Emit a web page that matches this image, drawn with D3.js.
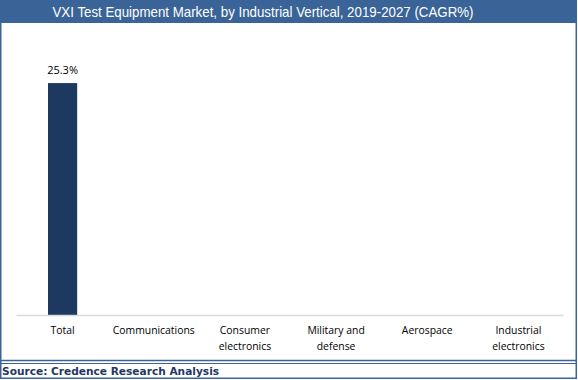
<!DOCTYPE html>
<html>
<head>
<meta charset="utf-8">
<script src="https://cdn.jsdelivr.net/npm/d3@7"></script>
<style>
  body { margin: 0; background: #fff; }
  svg { display: block; }
</style>
</head>
<body>
<div class="holder"></div>
<script>
var categories = ['Total', 'Communications', 'Consumer electronics', 'Military and defense', 'Aerospace', 'Industrial electronics']
var labelLines = [['Total'], ['Communications'], ['Consumer', 'electronics'], ['Military and', 'defense'], ['Aerospace'], ['Industrial', 'electronics']]
var cagr = [25.3, null, null, null, null, null]
var title = 'VXI Test Equipment Market, by Industrial Vertical, 2019-2027 (CAGR%)'
var source = 'Source: Credence Research Analysis'

var width = 578,
    height = 380,
    frame = '#3A6497'

var svg = d3.select('.holder')
  .append('svg')
  .attr('width', width)
  .attr('height', height)

// outer frame
svg.append('rect')
  .attr('x', 0.75).attr('y', 0.75)
  .attr('width', width - 2.5).attr('height', height - 2.5)
  .attr('fill', '#fff')
  .attr('stroke', frame)
  .attr('stroke-width', 1.5)

// title bar
svg.append('rect')
  .attr('x', 0).attr('y', 0)
  .attr('width', width - 1).attr('height', 23)
  .attr('fill', frame)

svg.append('text')
  .attr('x', 263).attr('y', 17)
  .attr('text-anchor', 'middle')
  .attr('textLength', 421)
  .attr('lengthAdjust', 'spacingAndGlyphs')
  .style('font-family', '"Liberation Sans", Arial, sans-serif')
  .style('font-size', '14.5px')
  .attr('fill', '#fff')
  .text(title)

var xScale = d3.scaleBand()
  .domain(categories)
  .range([16, 563])
  .paddingInner(0.68)
  .paddingOuter(0.34)

var yScale = d3.scaleLinear()
  .domain([0, 30])
  .range([315, 40])

var data = categories.map(function(c, i) {
  return { cat: c, value: cagr[i], lines: labelLines[i] }
})

// bars
svg.selectAll('.bar')
  .data(data.filter(function(d) { return d.value != null }))
  .enter()
  .append('rect')
  .attr('class', 'bar')
  .attr('x', function(d) { return xScale(d.cat) + 1 })
  .attr('y', function(d) { return yScale(d.value) })
  .attr('width', xScale.bandwidth())
  .attr('height', function(d) { return yScale(0) - yScale(d.value) })
  .attr('fill', '#1D3960')

svg.selectAll('.val')
  .data(data.filter(function(d) { return d.value != null }))
  .enter()
  .append('text')
  .attr('class', 'val')
  .attr('x', function(d) { return xScale(d.cat) + 1 + xScale.bandwidth() / 2 })
  .attr('y', function(d) { return yScale(d.value) - 9 })
  .attr('text-anchor', 'middle')
  .style('font-family', '"Open Sans", "Noto Sans", sans-serif')
  .style('font-size', '11px')
  .attr('fill', '#000')
  .text(function(d) { return d.value.toFixed(1) + '%' })

// x axis
var xAxis = d3.axisBottom(xScale).tickSize(0).tickFormat('')
var xChart = svg.append('g')
  .attr('transform', 'translate(0,' + yScale(0) + ')')
  .call(xAxis)
xChart.select('.domain').attr('stroke', '#D9D9D9').attr('stroke-width', 1.5)

var labels = svg.selectAll('.cat')
  .data(data)
  .enter()
  .append('text')
  .attr('class', 'cat')
  .attr('text-anchor', 'middle')
  .style('font-family', '"Open Sans", "Noto Sans", sans-serif')
  .style('font-size', '10.4px')
  .attr('fill', '#000')

labels.selectAll('tspan')
  .data(function(d) {
    return d.lines.map(function(l) { return { line: l, cat: d.cat } })
  })
  .enter()
  .append('tspan')
  .attr('x', function(d) { return xScale(d.cat) + 1 + xScale.bandwidth() / 2 })
  .attr('y', function(d, i) { return 334 + i * 16 })
  .text(function(d) { return d.line })

// footer lines
svg.append('line')
  .attr('x1', 0).attr('x2', width - 1)
  .attr('y1', 360.5).attr('y2', 360.5)
  .attr('stroke', frame).attr('stroke-width', 1.5)
svg.append('line')
  .attr('x1', 0).attr('x2', width - 1)
  .attr('y1', 363.5).attr('y2', 363.5)
  .attr('stroke', frame).attr('stroke-width', 1)

svg.append('text')
  .attr('x', 2).attr('y', 375)
  .style('font-family', '"DejaVu Sans", Verdana, sans-serif')
  .style('font-size', '10.6px')
  .style('font-weight', 'bold')
  .attr('fill', '#1F3864')
  .text(source)
</script>
</body>
</html>
